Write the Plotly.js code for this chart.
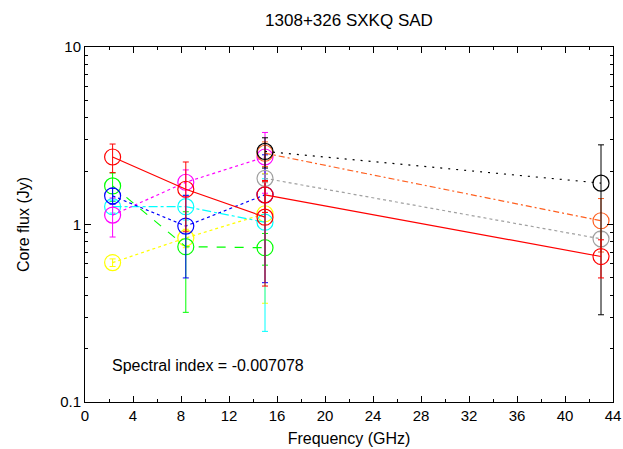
<!DOCTYPE html>
<html>
<head>
<meta charset="utf-8">
<script src="https://cdn.plot.ly/plotly-3.0.1.min.js"></script>
<style>html,body{margin:0;padding:0;background:#fff;}#chart{width:623px;height:449px;}</style>
</head>
<body>
<div id="chart"></div>
<script>
// Frequencies (GHz)
const freqSXK = [2.3, 8.4, 15];
const freqUQ = [15, 43];

// Series values (Jy) and errors
const redA = [2.40, 1.58, 1.10];
const redAErr = [0.44, 0.67, 0.65];
const green = [1.65, 0.75, 0.74];
const greenErr = [0.30, 0.43, 0.15];
const blue = [1.45, 0.98, 1.47];
const blueErr = [0.15, 0.48, 1.00];
const magenta = [1.13, 1.73, 2.40];
const magentaErr = [0.28, 0.30, 0.90];
const cyan = [1.26, 1.26, 1.03];
const cyanErr = [0.10, 0.20, 0.78];
const yellow = [0.61, 0.84, 1.15];
const yellowErr = [0.03, 0.10, 0.79];

const black = [2.58, 1.71];
const blackErrPlus = [0.50, 1.10];
const blackErrMinus = [0.50, 1.40];
const orange = [2.52, 1.05];
const orangeErr = [0.40, 0.35];
const gray = [1.82, 0.83];
const grayErr = [0.10, 0.08];
const redB = [1.47, 0.66];
const redBErr = [0.30, 0.16];

const titleText = '1308+326 SXKQ SAD';
const xTickVals = [0,4,8,12,16,20,24,28,32,36,40,44];
const yTickVals = [0.1, 1, 10];
const yTickText = ['0.1', '1', '10'];
const yMinor = [0.2,0.3,0.4,0.5,0.6,0.7,0.8,0.9,2,3,4,5,6,7,8,9];
const annotationText = 'Spectral index = -0.007078';

function tr(x, y, err, errMinus, color, dash) {
  const ey = {type:'data', array: err, visible:true, color: color, thickness:1, width:3};
  if (errMinus) { ey.symmetric = false; ey.arrayminus = errMinus; }
  return {
    x: x, y: y, type:'scatter', mode:'lines+markers',
    line:{color: color, width:1.2, dash: dash},
    marker:{symbol:'circle-open', size:16, color: color, line:{width:1.2, color: color}},
    error_y: ey, showlegend:false, hoverinfo:'none'
  };
}

const data = [
  tr(freqSXK, yellow, yellowErr, null, '#ffff00', 'dot'),
  tr(freqSXK, green, greenErr, null, '#00ff00', 'dash'),
  tr(freqSXK, cyan, cyanErr, null, '#00ffff', 'dashdot'),
  tr(freqSXK, magenta, magentaErr, null, '#ff00ff', 'dot'),
  tr(freqSXK, blue, blueErr, null, '#0000ff', 'dot'),
  tr(freqSXK, redA, redAErr, null, '#ff0000', 'solid'),
  tr(freqUQ, gray, grayErr, null, '#a0a0a0', '3px,3px'),
  tr(freqUQ, orange, orangeErr, null, '#ff6020', '6px,3px,2px,3px'),
  tr(freqUQ, black, blackErrPlus, blackErrMinus, '#000000', '2px,6px'),
  tr(freqUQ, redB, redBErr, null, '#ff0000', 'solid')
];

const layout = {
  width:623, height:449,
  margin:{l:85, r:10, t:47, b:47},
  paper_bgcolor:'#fff', plot_bgcolor:'#fff',
  font:{family:'Liberation Sans, Arial, sans-serif', size:15, color:'#000'},
  title:{text: titleText, xref:'paper', x:0.5, xanchor:'center', y:0.955, yanchor:'middle', font:{size:17}},
  xaxis:{
    range:[0,44], tickmode:'array', tickvals:xTickVals,
    ticks:'inside', ticklen:6, tickwidth:1, tickcolor:'#000',
    minor:{tickvals:[2,6,10,14,18,22,26,30,34,38,42], ticks:'inside', ticklen:3, tickcolor:'#000'},
    showline:true, linecolor:'#000', linewidth:1, mirror:'allticks',
    showgrid:false, zeroline:false, tickfont:{size:15},
    title:{text:'Frequency (GHz)', standoff:9, font:{size:16}}
  },
  yaxis:{
    type:'log', range:[-1,1], tickmode:'array', tickvals:yTickVals, ticktext:yTickText,
    ticks:'inside', ticklen:6, tickwidth:1, tickcolor:'#000',
    minor:{tickvals:yMinor, ticks:'inside', ticklen:3, tickcolor:'#000'},
    showline:true, linecolor:'#000', linewidth:1, mirror:'allticks',
    showgrid:false, zeroline:false, tickfont:{size:15},
    title:{text:'Core flux (Jy)', standoff:26, font:{size:16}}
  },
  annotations:[{
    text: annotationText, x:2.1, y:Math.log10(0.16), xref:'x', yref:'y',
    xanchor:'left', yanchor:'middle', showarrow:false, font:{size:16}
  }]
};

Plotly.newPlot('chart', data, layout, {displayModeBar:false, staticPlot:true});
</script>
</body>
</html>
